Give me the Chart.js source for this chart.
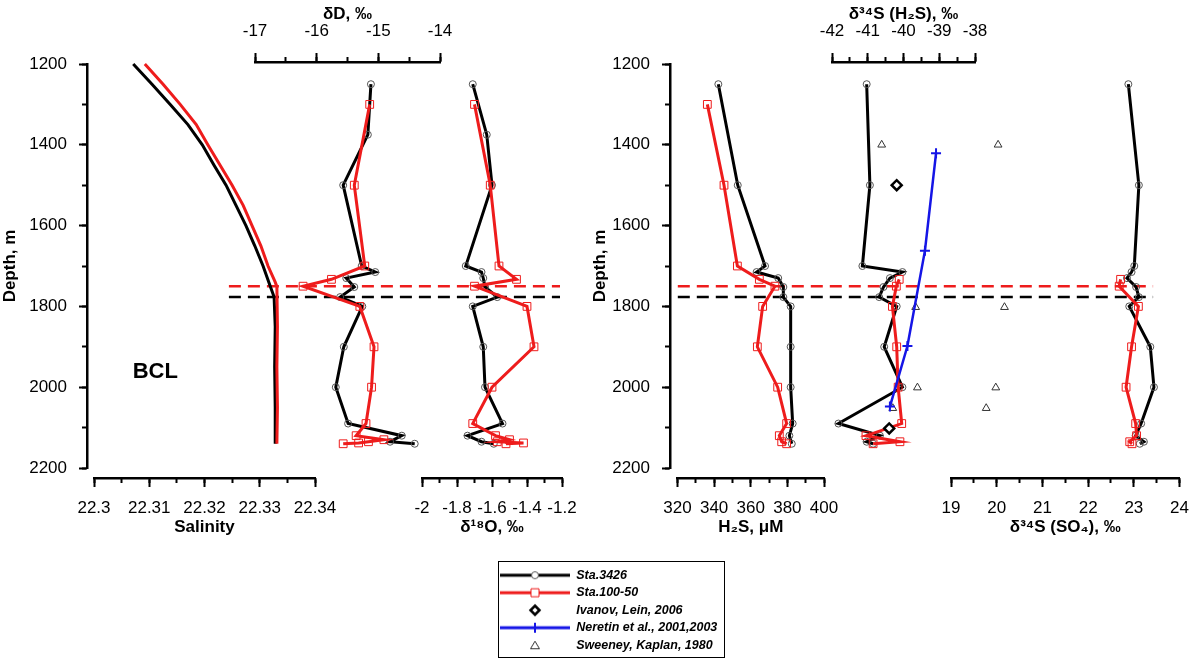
<!DOCTYPE html>
<html>
<head>
<meta charset="utf-8">
<script src="https://cdn.jsdelivr.net/npm/chart.js@4"></script>
<style>
  html, body { margin: 0; padding: 0; background: #fff; overflow: hidden; }
  #wrap { position: relative; width: 1200px; height: 660px; overflow: hidden; }
  #wrap canvas { position: absolute; left: 0; top: 0; }
  #legend { left: 495px !important; top: 564px !important; }
  #legendBox { position: absolute; left: 498px; top: 561px; width: 225px; height: 95px; border: 1.5px solid #000; }
</style>
</head>
<body>
<div id="wrap">
  <canvas id="frameL" width="1200" height="660"></canvas>
  <canvas id="frameR" width="1200" height="660"></canvas>
  <canvas id="salChart" width="1200" height="660"></canvas>
  <canvas id="dDChart" width="1200" height="660"></canvas>
  <canvas id="d18OChart" width="1200" height="660"></canvas>
  <canvas id="h2sChart" width="1200" height="660"></canvas>
  <canvas id="s34h2sChart" width="1200" height="660"></canvas>
  <canvas id="so4Chart" width="1200" height="660"></canvas>
  <div id="legendBox"></div>
  <canvas id="legend" width="232" height="100"></canvas>
</div>
<script>
// ---------- data (depth in m) ----------

// salinity, CTD profiles
var salDepth3426 = [1200, 1250, 1300, 1350, 1400, 1450, 1500, 1550, 1600, 1650, 1700, 1750, 1777, 1850, 1950, 2050, 2140];
var sal3426 = [22.3071, 22.3105, 22.3138, 22.3170, 22.3196, 22.3217, 22.3239, 22.3257, 22.3275, 22.3291, 22.3306, 22.3319, 22.3326, 22.3328, 22.3327, 22.3328, 22.3328];
var salDepth10050 = [1200, 1250, 1300, 1350, 1400, 1450, 1500, 1550, 1600, 1650, 1700, 1740, 1751, 1850, 1950, 2050, 2140];
var sal10050 = [22.3092, 22.3125, 22.3156, 22.3185, 22.3206, 22.3228, 22.3250, 22.3270, 22.3286, 22.3302, 22.3315, 22.3328, 22.3331, 22.3332, 22.3331, 22.3332, 22.3331];

// Sta.3426 bottle samples
var dDDepth3426 = [1250, 1375, 1500, 1700, 1715, 1730, 1752, 1777, 1800, 1900, 2000, 2090, 2120, 2135, 2140];
var dD3426 = [-15.12, -15.17, -15.57, -15.27, -15.05, -15.52, -15.39, -15.62, -15.26, -15.56, -15.69, -15.49, -14.62, -14.81, -14.41];
var d18ODepth3426 = [1250, 1375, 1500, 1700, 1715, 1730, 1752, 1777, 1800, 1900, 2000, 2090, 2120, 2135, 2140];
var d18O3426 = [-1.71, -1.63, -1.60, -1.75, -1.66, -1.65, -1.64, -1.57, -1.71, -1.65, -1.64, -1.54, -1.74, -1.66, -1.59];
var h2sDepth3426 = [1250, 1500, 1700, 1715, 1730, 1752, 1777, 1800, 1900, 2000, 2090, 2120, 2140];
var h2s3426 = [342.3, 352.9, 367.8, 363.2, 375.0, 377.8, 377.8, 381.8, 381.8, 381.8, 382.9, 381.1, 382.4];
var s34Depth3426 = [1250, 1500, 1700, 1715, 1730, 1752, 1777, 1800, 1900, 2000, 2090, 2120, 2135, 2140];
var s34h2s3426 = [-41.03, -40.94, -41.15, -40.03, -40.38, -40.56, -40.68, -40.19, -40.54, -40.03, -41.82, -40.66, -41.03, -40.85];
var so43426 = [22.88, 23.11, 23.01, 22.95, 22.85, 23.05, 23.11, 22.90, 23.36, 23.44, 23.16, 23.04, 23.22, 23.13];

// Sta.100-50 bottle samples
var isoDepth10050 = [1300, 1500, 1700, 1733, 1750, 1800, 1900, 2000, 2090, 2120, 2130, 2135, 2138, 2140];
var dD10050 = [-15.14, -15.39, -15.22, -15.76, -16.22, -15.30, -15.07, -15.11, -15.20, -15.36, -14.91, -15.16, -15.32, -15.57];
var d18O10050 = [-1.70, -1.61, -1.56, -1.46, -1.70, -1.40, -1.36, -1.60, -1.71, -1.58, -1.50, -1.57, -1.42, -1.52];
var h2sDepth10050 = [1300, 1500, 1700, 1733, 1750, 1800, 1900, 2000, 2090, 2120, 2135, 2140];
var h2s10050 = [336.3, 345.4, 352.7, 364.7, 373.2, 366.5, 363.6, 374.7, 379.6, 375.6, 376.9, 379.6];
var s34Depth10050 = [1733, 1750, 1800, 1900, 2000, 2090, 2120, 2135, 2140];
var s34h2s10050 = [-40.12, -40.20, -40.31, -40.19, -40.15, -40.05, -41.05, -40.10, -40.85];
var so410050 = [22.71, 22.68, 23.10, 22.95, 22.83, 23.04, 23.06, 22.91, 22.96];

// literature data
var ivanovDepth = [1500, 2102];
var ivanovS34 = [-40.19, -40.40];
var neretinDepth = [1421, 1662, 1898, 2048];
var neretinS34 = [-39.09, -39.40, -39.89, -40.38];
var sweeneyDepth = [1400, 1802, 2001, 2052];
var sweeneyS34h2s = [-40.61, -39.66, -39.61, -40.30];
var sweeneySO4 = [20.03, 20.17, 19.98, 19.77];

// BCL upper boundary at both stations
var bclDepth3426 = 1777;
var bclDepth10050 = 1750;

// ---------- layout ----------
Chart.defaults.font.family = '"Liberation Sans", Arial, Helvetica, sans-serif';
Chart.defaults.color = '#000';

var W = 1200, H = 660;
var depthMin = 1200, depthMax = 2200;
var frameTop = 64, frameBottom = 468;     // depth frame (1200..2200 m)
var dataTop = 62, dataBottom = 478;       // data axes sit a bit off the frame
var mPerPx = (depthMax - depthMin) / (frameBottom - frameTop);
var axisH = 60;
var RED = '#ee1c1c', BLUE = '#1515e6';

function pts(depths, vals) {
  return vals.map(function (v, i) { return {x: v, y: depths[i]}; });
}
function fmt(v) { return String(Math.round(v * 1000) / 1000); }

function black(data) {
  return {label: 'Sta.3426', data: data, showLine: true, borderColor: '#000', borderWidth: 3,
    pointStyle: 'circle', pointRadius: 3.5, pointBorderColor: '#555', pointBorderWidth: 1,
    pointBackgroundColor: 'rgba(255,255,255,0)', clip: false};
}
function red(data) {
  return {label: 'Sta.100-50', data: data, showLine: true, borderColor: RED, borderWidth: 3,
    pointStyle: 'rect', pointRadius: 5.5, pointBorderColor: RED, pointBorderWidth: 1,
    pointBackgroundColor: 'rgba(255,255,255,0)', clip: false};
}
function ctd(data, color) {
  return {data: data, showLine: true, borderColor: color, borderWidth: 3, pointRadius: 0, clip: false};
}

function baseOptions(padding, scales, extra) {
  return {
    responsive: false, animation: false, events: [],
    layout: {padding: padding, autoPadding: false},
    scales: scales,
    plugins: Object.assign({legend: {display: false}, tooltip: {enabled: false}}, extra || {})
  };
}

// chart with one partial x axis (top or bottom)
function axisChart(id, o) {
  var top = o.side === 'top' ? dataTop - axisH : dataTop;
  var bottom = o.side === 'bottom' ? H - dataBottom - axisH : H - dataBottom;
  var scales = {
    x: {type: 'linear', position: o.side, min: o.min, max: o.max, weight: 1,
      afterFit: function (s) { s.height = axisH; },
      border: {display: true, width: 2.5, color: '#000'},
      grid: {drawOnChartArea: false, drawTicks: true, tickLength: 9, tickWidth: 2, tickColor: '#000'},
      ticks: {stepSize: o.major, autoSkip: false, maxRotation: 0, minRotation: 0, padding: 11,
        font: {size: 17}, color: '#000', callback: fmt},
      title: {display: true, text: o.title, color: '#000', font: {size: 17, weight: 'bold'},
        padding: o.side === 'top' ? {top: 2, bottom: 0} : {top: 0, bottom: 0}}
    },
    xMinor: {type: 'linear', position: o.side, min: o.min, max: o.max, weight: 0,
      afterFit: function (s) { s.height = 0; },
      border: {display: false},
      grid: {drawOnChartArea: false, drawTicks: true, tickLength: 5, tickWidth: 2, tickColor: '#000'},
      ticks: {stepSize: o.minor, display: false, autoSkip: false}
    },
    y: {type: 'linear', display: false, reverse: true,
      min: depthMin - (frameTop - dataTop) * mPerPx,
      max: depthMax + (dataBottom - frameBottom) * mPerPx}
  };
  return new Chart(document.getElementById(id), {
    type: 'scatter',
    data: {datasets: o.datasets},
    options: baseOptions({left: o.left, right: W - o.right, top: top, bottom: bottom}, scales, o.pluginOpts),
    plugins: o.plugins || []
  });
}

// depth frame with y axis and BCL dashed lines
function frameChart(id, o) {
  var dash = function (depth, color) {
    return {data: [{x: o.bcl[0], y: depth}, {x: o.bcl[1], y: depth}], showLine: true,
      borderColor: color, borderWidth: 2.5, borderDash: [12, 7], pointRadius: 0, clip: false};
  };
  var scales = {
    x: {type: 'linear', display: false, min: 0, max: 1},
    y: {type: 'linear', position: 'left', reverse: true, min: depthMin, max: depthMax, weight: 1,
      afterFit: function (s) { s.width = o.axisW; },
      border: {display: true, width: 2.5, color: '#000'},
      grid: {drawOnChartArea: false, drawTicks: true, tickLength: 8, tickWidth: 2, tickColor: '#000'},
      ticks: {stepSize: 200, autoSkip: false, padding: 12, font: {size: 17}, color: '#000', callback: fmt},
      title: {display: true, text: 'Depth, m', color: '#000', font: {size: 17, weight: 'bold'}, padding: 0}
    },
    yMinor: {type: 'linear', position: 'left', reverse: true, min: depthMin, max: depthMax, weight: 0,
      afterFit: function (s) { s.width = 0; },
      border: {display: false},
      grid: {drawOnChartArea: false, drawTicks: true, tickLength: 5, tickWidth: 2, tickColor: '#000'},
      ticks: {stepSize: 100, display: false, autoSkip: false}
    }
  };
  return new Chart(document.getElementById(id), {
    type: 'scatter',
    data: {datasets: [dash(bclDepth10050, RED), dash(bclDepth3426, '#000')]},
    options: baseOptions({left: o.left - o.axisW, right: W - o.right, top: frameTop, bottom: H - frameBottom}, scales)
  });
}

var textLabel = {
  id: 'textLabel',
  afterDatasetsDraw: function (chart, args, opt) {
    var ctx = chart.ctx;
    ctx.save();
    ctx.font = 'bold 22px "Liberation Sans", Arial, sans-serif';
    ctx.fillStyle = '#000';
    ctx.textAlign = 'center';
    ctx.textBaseline = 'middle';
    ctx.fillText(opt.text, chart.scales.x.getPixelForValue(opt.x), chart.scales.y.getPixelForValue(opt.y));
    ctx.restore();
  }
};

// ---------- left panel ----------
frameChart('frameL', {left: 87, right: 560, axisW: 87, bcl: [0.3, 1]});

axisChart('salChart', {
  left: 94, right: 315, side: 'bottom', min: 22.3, max: 22.34, major: 0.01, minor: 0.005, title: 'Salinity',
  datasets: [ctd(pts(salDepth10050, sal10050), RED), ctd(pts(salDepth3426, sal3426), '#000')],
  plugins: [textLabel], pluginOpts: {textLabel: {text: 'BCL', x: 22.3111, y: 1962}}
});

axisChart('dDChart', {
  left: 255, right: 440, side: 'top', min: -17, max: -14, major: 1, minor: 0.5, title: 'δD, ‰',
  datasets: [red(pts(isoDepth10050, dD10050)), black(pts(dDDepth3426, dD3426))]
});

axisChart('d18OChart', {
  left: 422, right: 562, side: 'bottom', min: -2, max: -1.2, major: 0.2, minor: 0.1, title: 'δ¹⁸O, ‰',
  datasets: [red(pts(isoDepth10050, d18O10050)), black(pts(d18ODepth3426, d18O3426))]
});

// ---------- right panel ----------
frameChart('frameR', {left: 670, right: 1190, axisW: 80, bcl: [0.015, 0.929]});

axisChart('h2sChart', {
  left: 677.5, right: 824, side: 'bottom', min: 320, max: 400, major: 20, minor: 10, title: 'H₂S, μM',
  datasets: [red(pts(h2sDepth10050, h2s10050)), black(pts(h2sDepth3426, h2s3426))]
});

axisChart('s34h2sChart', {
  left: 832, right: 975, side: 'top', min: -42, max: -38, major: 1, minor: 0.5, title: 'δ³⁴S (H₂S), ‰',
  datasets: [
    {label: 'Neretin et al., 2001,2003', data: pts(neretinDepth, neretinS34), showLine: true, borderColor: BLUE,
      borderWidth: 2.5, pointStyle: 'cross', pointRadius: 5, pointBorderColor: BLUE, pointBorderWidth: 2, clip: false},
    {label: 'Ivanov, Lein, 2006', data: pts(ivanovDepth, ivanovS34), showLine: false, pointStyle: 'rectRot',
      pointRadius: 5, pointBorderColor: '#000', pointBorderWidth: 2.5, pointBackgroundColor: '#fff', clip: false},
    {label: 'Sweeney, Kaplan, 1980', data: pts(sweeneyDepth, sweeneyS34h2s), showLine: false, pointStyle: 'triangle',
      pointRadius: 4.5, pointBorderColor: '#333', pointBorderWidth: 1, pointBackgroundColor: 'rgba(255,255,255,0)', clip: false},
    red(pts(s34Depth10050, s34h2s10050)),
    black(pts(s34Depth3426, s34h2s3426))
  ]
});

axisChart('so4Chart', {
  left: 951, right: 1189, side: 'bottom', min: 19, max: 24, major: 1, minor: 0.5, title: 'δ³⁴S (SO₄), ‰',
  datasets: [
    {label: 'Sweeney, Kaplan, 1980', data: pts(sweeneyDepth, sweeneySO4), showLine: false, pointStyle: 'triangle',
      pointRadius: 4.5, pointBorderColor: '#333', pointBorderWidth: 1, pointBackgroundColor: 'rgba(255,255,255,0)', clip: false},
    red(pts(s34Depth10050, so410050)),
    black(pts(s34Depth3426, so43426))
  ]
});

// ---------- legend ----------
var legendItems = [
  {label: 'Sta.3426', line: '#000', marker: 'circle', mc: '#555', mw: 1},
  {label: 'Sta.100-50', line: RED, marker: 'square', mc: RED, mw: 1},
  {label: 'Ivanov, Lein, 2006', line: null, marker: 'diamond', mc: '#000', mw: 2.5},
  {label: 'Neretin et al., 2001,2003', line: BLUE, marker: 'plus', mc: BLUE, mw: 2},
  {label: 'Sweeney, Kaplan, 1980', line: null, marker: 'triangle', mc: '#333', mw: 1}
];

function legendIcon(it) {
  var c = document.createElement('canvas');
  c.width = 70; c.height = 14;
  var g = c.getContext('2d');
  var cx = 35, cy = 7;
  if (it.line) {
    g.strokeStyle = it.line; g.lineWidth = 3;
    g.beginPath(); g.moveTo(0, cy); g.lineTo(70, cy); g.stroke();
  }
  g.strokeStyle = it.mc; g.lineWidth = it.mw; g.fillStyle = '#fff';
  g.beginPath();
  if (it.marker === 'circle') {
    g.arc(cx, cy, 3.5, 0, 2 * Math.PI); g.fill(); g.stroke();
  } else if (it.marker === 'square') {
    g.rect(cx - 4, cy - 4, 8, 8); g.fill(); g.stroke();
  } else if (it.marker === 'diamond') {
    g.moveTo(cx, cy - 4.5); g.lineTo(cx + 4.5, cy); g.lineTo(cx, cy + 4.5); g.lineTo(cx - 4.5, cy); g.closePath();
    g.fill(); g.stroke();
  } else if (it.marker === 'plus') {
    g.moveTo(cx, cy - 5); g.lineTo(cx, cy + 5); g.stroke();
  } else if (it.marker === 'triangle') {
    g.moveTo(cx, cy - 4); g.lineTo(cx + 4.5, cy + 3.5); g.lineTo(cx - 4.5, cy + 3.5); g.closePath();
    g.stroke();
  }
  return c;
}
var legendIcons = legendItems.map(legendIcon);

new Chart(document.getElementById('legend'), {
  type: 'scatter',
  data: {datasets: legendItems.map(function (it) { return {label: it.label, data: []}; })},
  options: {
    responsive: false, animation: false, events: [],
    layout: {padding: 0, autoPadding: false},
    scales: {x: {display: false}, y: {display: false}},
    plugins: {
      tooltip: {enabled: false},
      legend: {
        display: true, position: 'top', align: 'start', maxHeight: 100,
        labels: {
          usePointStyle: true, pointStyleWidth: 70, boxHeight: 12, padding: 5, color: '#000',
          font: {size: 12.5, weight: 'bold', style: 'italic'},
          generateLabels: function (chart) {
            return chart.data.datasets.map(function (ds, i) {
              return {text: ds.label, pointStyle: legendIcons[i], fillStyle: '#fff', strokeStyle: '#000',
                lineWidth: 0, hidden: false, datasetIndex: i, fontColor: '#000'};
            });
          }
        }
      }
    }
  }
});
</script>
</body>
</html>
